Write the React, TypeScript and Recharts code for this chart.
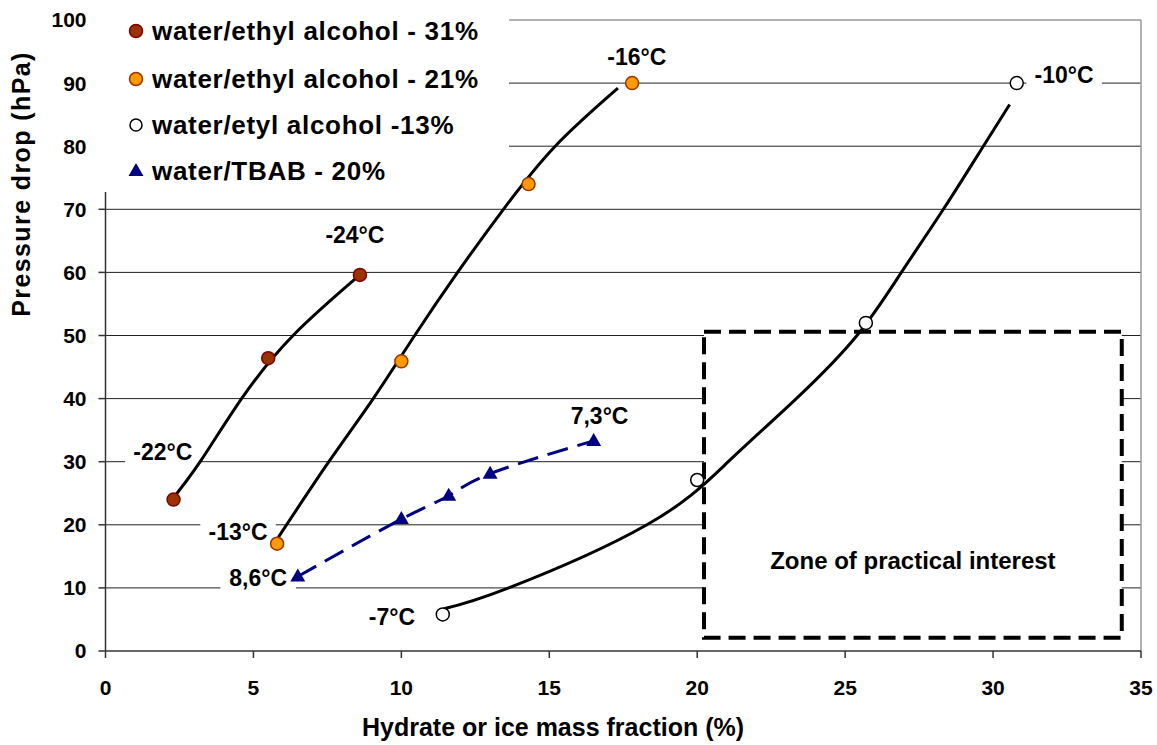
import React from 'react'
import {
  ComposedChart,
  Line,
  Scatter,
  XAxis,
  YAxis,
  CartesianGrid,
  ReferenceArea,
  ReferenceLine,
  Legend,
} from 'recharts'

// axes
const xTicks = [0, 5, 10, 15, 20, 25, 30, 35]
const yTicks = [0, 10, 20, 30, 40, 50, 60, 70, 80, 90, 100]

// measured points
const eth31X = [2.3, 5.5, 8.6]
const eth31Y = [24.0, 46.4, 59.6]
const eth21X = [5.8, 10.0, 14.3, 17.8]
const eth21Y = [17.0, 45.9, 74.0, 90.0]
const eth13X = [11.4, 20.0, 25.7, 30.8]
const eth13Y = [5.8, 27.1, 52.0, 90.0]
const tbabX = [6.5, 10.0, 11.6, 13.0, 16.5]
const tbabY = [11.8, 20.9, 24.6, 28.1, 33.3]

// trend curves
const fit31X = [2.2, 3.2, 4.6, 6.34, 8.6]
const fit31Y = [23.7, 30, 40, 50, 59.6]
const fit21X = [5.84, 7.55, 9.05, 10.45, 11.9, 13.45, 15.2, 17.32]
const fit21Y = [18, 30, 40, 50, 60, 70, 80, 89.2]
const fit13X = [11.44, 13.63, 18.3, 21.05, 23.35, 25.4, 26.9, 28.32, 29.67, 30.56]
const fit13Y = [6.7, 10, 20, 30, 40, 50, 60, 70, 80, 86.6]

// zone of practical interest
const zoneX = [20.23, 34.35]
const zoneY = [2.1, 50.6]

// temperature labels
const noteText = ['-22°C', '-24°C', '-16°C', '-10°C', '-13°C', '8,6°C', '-7°C', '7,3°C']
const noteX = [1.94, 8.43, 17.96, 32.4, 4.48, 5.16, 9.68, 16.7]
const noteY = [31.5, 65.9, 94.1, 91.3, 18.9, 11.6, 5.4, 37.2]

const legendNames = [
  'water/ethyl alcohol - 31%',
  'water/ethyl alcohol - 21%',
  'water/etyl alcohol -13%',
  'water/TBAB - 20%',
]

const FONT = '"Liberation Sans", Arial, sans-serif'

const zip = (xs: number[], ys: number[]) => xs.map((x, i) => ({ x, y: ys[i] }))

const notes = noteText.map((t, i) => ({ x: noteX[i], y: noteY[i], t }))

function Dot(fill: string, stroke: string) {
  return (p: any) => (
    <circle cx={p.cx} cy={p.cy} r={6.5} fill={fill} stroke={stroke} strokeWidth={1.5} />
  )
}

function Tri(p: any) {
  const { cx, cy } = p
  return (
    <path
      d={`M${cx},${cy - 8} L${cx - 7.5},${cy + 5} L${cx + 7.5},${cy + 5} Z`}
      fill="#000080"
    />
  )
}

function Note(p: any) {
  const { cx, cy, payload } = p
  const w = payload.t.length * 11.5 + 18
  return (
    <g>
      <rect x={cx - w / 2} y={cy - 14} width={w} height={28} fill="#fff" />
      <text
        x={cx}
        y={cy}
        textAnchor="middle"
        dominantBaseline="central"
        fontFamily={FONT}
        fontWeight="bold"
        fontSize={23}
        fill="#000"
      >
        {payload.t}
      </text>
    </g>
  )
}

function LegendBox() {
  const rows = [31, 79, 125, 171]
  return (
    <svg width={412} height={192} style={{ background: '#fff', display: 'block' }}>
      {legendNames.map((name, i) => {
        const y = rows[i]
        let marker
        if (i === 0) marker = <circle cx={39} cy={y} r={6.5} fill="#993300" stroke="#800000" strokeWidth={1.5} />
        else if (i === 1) marker = <circle cx={39} cy={y} r={6.5} fill="#FF9900" stroke="#993300" strokeWidth={1.5} />
        else if (i === 2) marker = <circle cx={39} cy={y} r={6} fill="#fff" stroke="#000" strokeWidth={1.5} />
        else marker = <path d={`M39,${y - 8} L31.5,${y + 5} L46.5,${y + 5} Z`} fill="#000080" />
        return (
          <g key={name}>
            {marker}
            <text
              x={55}
              y={y}
              dominantBaseline="central"
              fontFamily={FONT}
              fontWeight="bold"
              fontSize={26}
              letterSpacing={0.7}
              fill="#000"
            >
              {name}
            </text>
          </g>
        )
      })}
    </svg>
  )
}

function YTitle(props: any) {
  const vb = props.viewBox
  const cx = vb.x + 21
  const cy = vb.y + 164
  return (
    <text
      x={cx}
      y={cy}
      transform={`rotate(-90 ${cx} ${cy})`}
      textAnchor="middle"
      dominantBaseline="central"
      fontFamily={FONT}
      fontWeight="bold"
      fontSize={25}
      letterSpacing={1.4}
      fill="#000"
    >
      Pressure drop (hPa)
    </text>
  )
}

function XTitle(props: any) {
  const vb = props.viewBox
  return (
    <text
      x={vb.x + 447.5}
      y={vb.y + 76}
      textAnchor="middle"
      dominantBaseline="central"
      fontFamily={FONT}
      fontWeight="bold"
      fontSize={25}
      fill="#000"
    >
      Hydrate or ice mass fraction (%)
    </text>
  )
}

const tickStyle = { fontFamily: FONT, fontWeight: 'bold', fontSize: 21, fill: '#000' }

export default function App() {
  return (
    <div style={{ position: 'absolute', left: 0, top: 0, width: 1157, height: 745, background: '#fff' }}>
      <ComposedChart
        width={1157}
        height={745}
        margin={{ top: 20, right: 16, bottom: 14, left: 0 }}
      >
        <CartesianGrid
          vertical={false}
          horizontalValues={yTicks.slice(1, -1)}
          stroke="#222"
          strokeWidth={1}
        />
        <XAxis
          type="number"
          dataKey="x"
          domain={[0, 35]}
          ticks={xTicks}
          tickSize={7}
          tickMargin={22}
          height={80}
          stroke="#333"
          strokeWidth={1.5}
          tick={tickStyle}
          allowDataOverflow
          label={{ content: (p: any) => <XTitle {...p} /> }}
        />
        <YAxis
          type="number"
          dataKey="y"
          domain={[0, 100]}
          ticks={yTicks}
          width={105.5}
          tickSize={7}
          tickMargin={12}
          stroke="#333"
          strokeWidth={1.5}
          tick={tickStyle}
          allowDataOverflow
          label={{ content: (p: any) => <YTitle {...p} /> }}
        />
        <ReferenceLine y={100} stroke="#999" strokeWidth={1.5} />
        <ReferenceLine x={35} stroke="#999" strokeWidth={1.5} />
        <ReferenceArea
          x1={zoneX[0]}
          x2={zoneX[1]}
          y1={zoneY[0]}
          y2={zoneY[1]}
          fill="#fff"
          fillOpacity={1}
          stroke="#000"
          strokeWidth={4}
          strokeDasharray="17 8"
          label={{
            value: 'Zone of practical interest',
            position: 'insideBottom',
            offset: 69,
            fontFamily: FONT,
            fontWeight: 'bold',
            fontSize: 24,
            fill: '#000',
          }}
        />
        <Scatter data={notes} shape={Note} isAnimationActive={false} zIndex={350} />
        <Line data={zip(fit31X, fit31Y)} dataKey="y" type="natural" stroke="#000" strokeWidth={3} dot={false} isAnimationActive={false} />
        <Line data={zip(fit21X, fit21Y)} dataKey="y" type="natural" stroke="#000" strokeWidth={3} dot={false} isAnimationActive={false} />
        <Line data={zip(fit13X, fit13Y)} dataKey="y" type="natural" stroke="#000" strokeWidth={3} dot={false} isAnimationActive={false} />
        <Line
          data={zip(tbabX, tbabY)}
          dataKey="y"
          type="natural"
          stroke="#000080"
          strokeWidth={3}
          strokeDasharray="21 10"
          dot={false}
          isAnimationActive={false}
        />
        <Scatter data={zip(eth31X, eth31Y)} shape={Dot('#993300', '#800000')} isAnimationActive={false} />
        <Scatter data={zip(eth21X, eth21Y)} shape={Dot('#FF9900', '#993300')} isAnimationActive={false} />
        <Scatter data={zip(eth13X, eth13Y)} shape={Dot('#fff', '#000')} isAnimationActive={false} />
        <Scatter data={zip(tbabX, tbabY)} shape={Tri} isAnimationActive={false} />
        <Legend
          layout="vertical"
          align="center"
          verticalAlign="middle"
          wrapperStyle={{ left: 97, top: 0, width: 412, height: 192 }}
          content={() => <LegendBox />}
        />
      </ComposedChart>
    </div>
  )
}
